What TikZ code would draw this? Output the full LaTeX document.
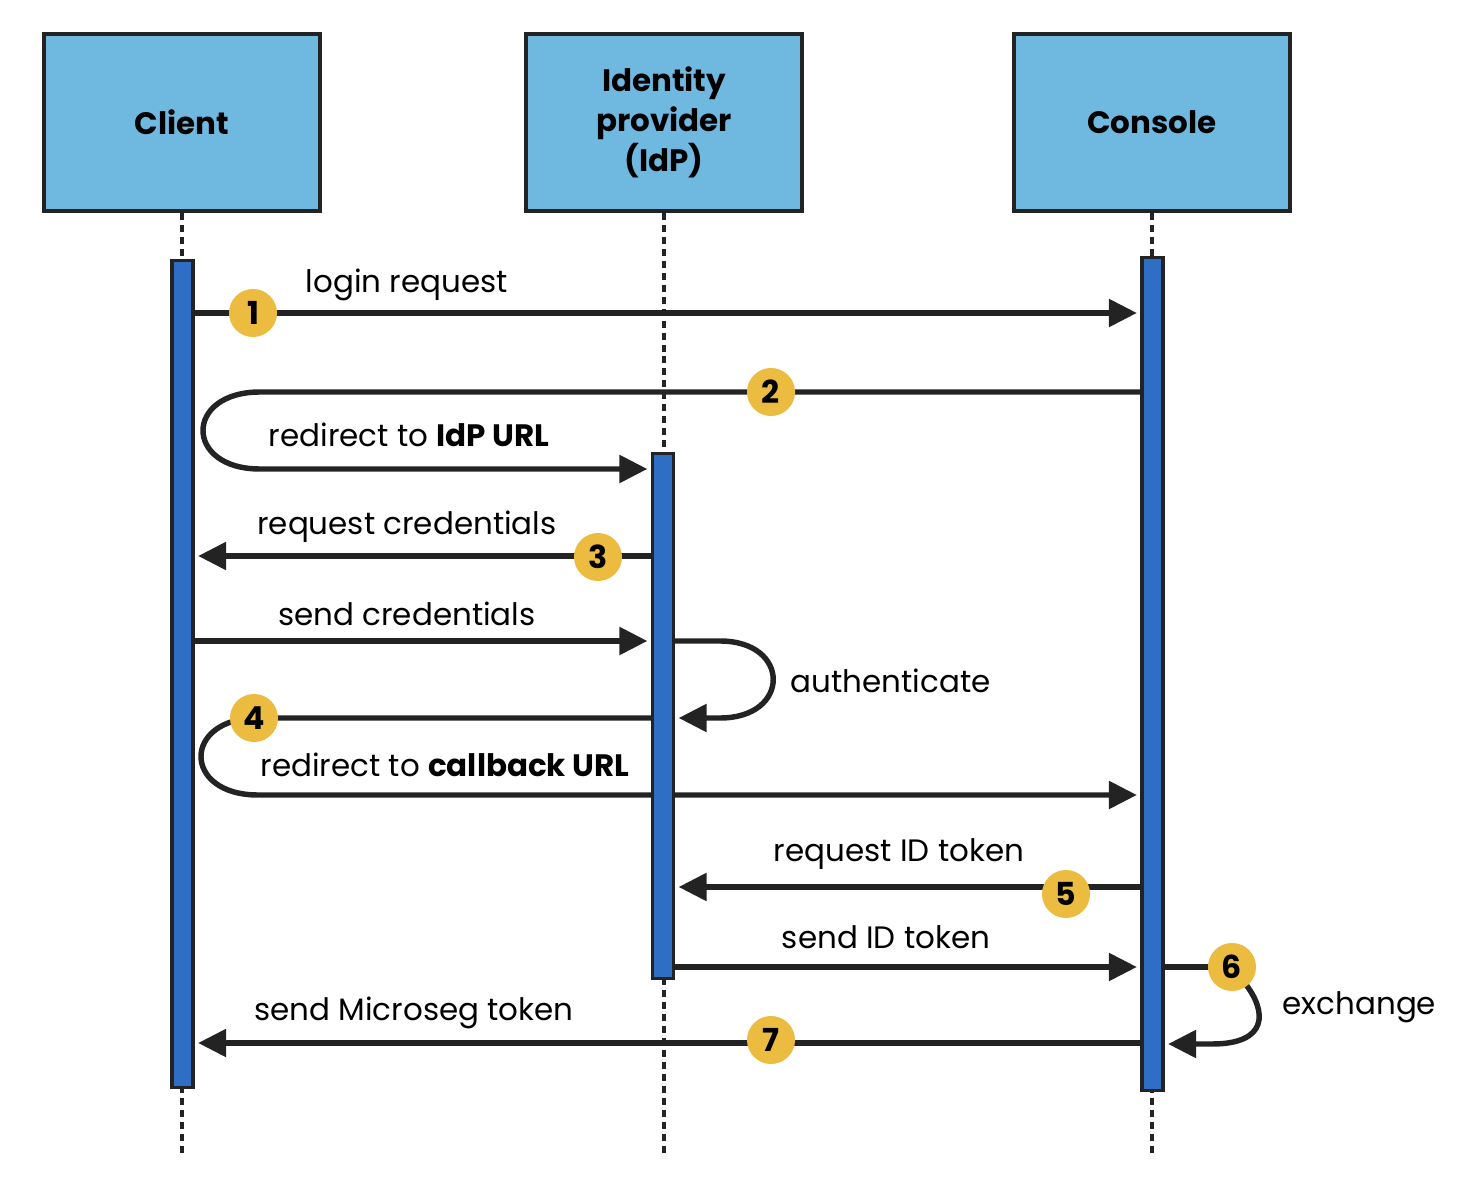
\documentclass[tikz,border=0pt]{standalone}
\usepackage{fontspec}
\setmainfont{Poppins}
\usetikzlibrary{arrows.meta,positioning,backgrounds}
\definecolor{actorblue}{HTML}{6FB9E0}
\definecolor{barblue}{HTML}{2E6EC5}
\definecolor{badgegold}{HTML}{ECBC40}
\definecolor{inkdark}{HTML}{232323}

\begin{document}
\begin{tikzpicture}[x=0.01cm,y=-0.01cm,
  actor/.style={rectangle,draw=inkdark,line width=1.1pt,fill=actorblue,minimum width=2.76cm,minimum height=1.77cm,font=\fontsize{8.8pt}{11.4pt}\selectfont\bfseries,align=center},
  bar/.style={rectangle,draw=inkdark,line width=0.9pt,fill=barblue,minimum width=0.21cm,inner sep=0pt},
  life/.style={inkdark,line width=1.1pt,dash pattern=on 2pt off 1.4pt},
  flow/.style={inkdark,line width=1.55pt},
  msg/.style={flow,-{Triangle[length=0.28cm,width=0.27cm]},shorten >=1pt},
  badge/.style={circle,fill=badgegold,minimum size=0.48cm,inner sep=0pt,font=\fontsize{9pt}{9pt}\selectfont\bfseries},
  lab/.style={font=\fontsize{8.8pt}{11pt}\selectfont,inner sep=0pt}]

  \useasboundingbox (0,0) rectangle (1484,1194);

  % Participants
  \node[actor] (client) at (182,122.5) {Client};
  \node[actor] (idp) at (664,122.5) {Identity\\provider\\(IdP)};
  \node[actor] (console) at (1152,122.5) {Console};

  % Activation bars
  \node[bar,minimum height=8.26cm] (cbar) at (182.5,674) {};
  \node[bar,minimum height=5.24cm] (ibar) at (663,716) {};
  \node[bar,minimum height=8.32cm] (kbar) at (1152.5,674) {};

  \begin{scope}[on background layer]
    % lifelines
    \draw[life] (client.south) -- (client.south |- 0,1155);
    \draw[life] (idp.south) -- (idp.south |- 0,1155);
    \draw[life] (console.south) -- (console.south |- 0,1155);

    % messages
    \draw[msg] (cbar.east |- 0,313) -- (kbar.west |- 0,313);
    \draw[msg] (kbar.west |- 0,392) -- (260,392) .. controls (184,392) and (184,469) .. (260,469) -- (ibar.west |- 0,469);
    \draw[msg] (ibar.west |- 0,556) -- (cbar.east |- 0,556);
    \draw[msg] (cbar.east |- 0,641) -- (ibar.west |- 0,641);
    \draw[msg] (ibar.east |- 0,641) -- (720,641) .. controls (791,641) and (791,718) .. (720,718) -- (ibar.east |- 0,718);
    \draw[msg] (ibar.west |- 0,718) -- (258,718) .. controls (182,718) and (182,795) .. (258,795) -- (kbar.west |- 0,795);
    \draw[msg] (kbar.west |- 0,887) -- (ibar.east |- 0,887);
    \draw[msg] (ibar.east |- 0,967) -- (kbar.west |- 0,967);
    \draw[flow] (kbar.east |- 0,967) -- (1232,967);
    \draw[msg] (1244,982) .. controls (1268,1012) and (1268,1044) .. (1212,1044) -- (kbar.east |- 0,1044);
    \draw[msg] (kbar.west |- 0,1043) -- (cbar.east |- 0,1043);
  \end{scope}

  % Step badges
  \node[badge] (s1) at (253,313) {1};
  \node[badge] (s2) at (771,392) {2};
  \node[badge] (s3) at (598,557) {3};
  \node[badge] (s4) at (254,718) {4};
  \node[badge] (s5) at (1066,894) {5};
  \node[badge] (s6) at (1232,967) {6};
  \node[badge] (s7) at (771,1040) {7};

  % Labels
  \node[lab] (l1) at (407,285) {login request};
  \node[lab] (l2) at (409,435) {redirect to \textbf{IdP URL}};
  \node[lab] (l3) at (407,527) {request credentials};
  \node[lab] (l4) at (407,614) {send credentials};
  \node[lab,anchor=west] (l5) at (790,681) {authenticate};
  \node[lab] (l6) at (445,765) {redirect to \textbf{callback URL}};
  \node[lab] (l7) at (899,854) {request ID token};
  \node[lab] (l8) at (886,937) {send ID token};
  \node[lab,anchor=west] (l9) at (1282,1007) {exchange};
  \node[lab] (l10) at (414,1013) {send Microseg token};

\end{tikzpicture}
\end{document}
